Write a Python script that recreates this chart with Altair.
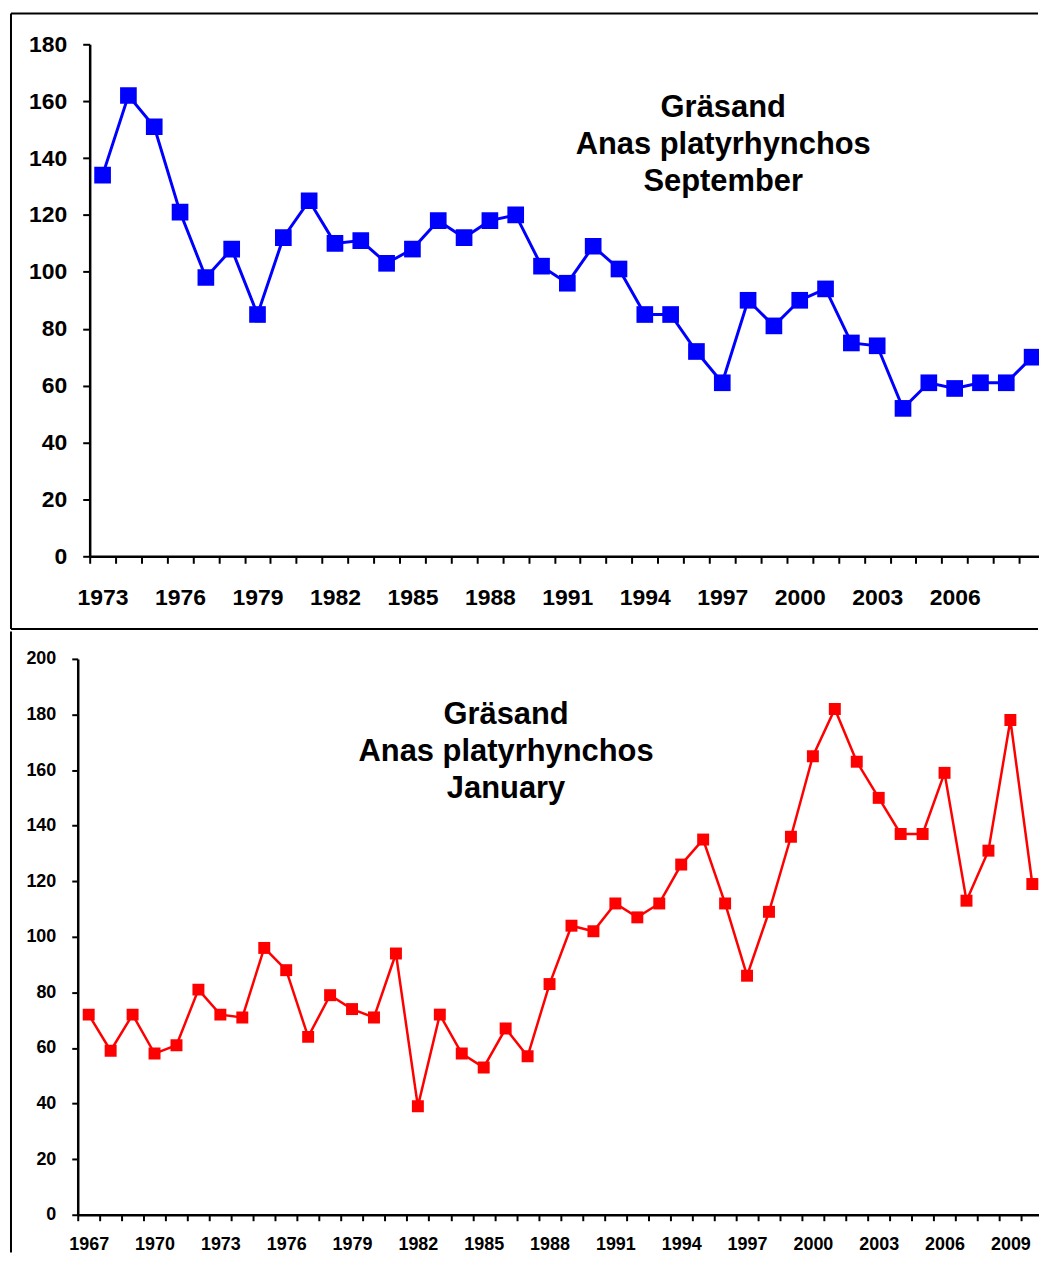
import altair as alt
import pandas as pd

# ---- data ----
sep_years = list(range(1973, 2010))
sep_values = [134, 162, 151, 121, 98, 108, 85, 112, 125, 110, 111, 103, 108, 118, 112,
              118, 120, 102, 96, 109, 101, 85, 85, 72, 61, 90, 81, 90, 94, 75, 74, 52,
              61, 59, 61, 61, 70]

jan_years = list(range(1967, 2011))
jan_values = [72, 59, 72, 58, 61, 81, 72, 71, 96, 88, 64, 79, 74, 71, 94, 39, 72, 58,
              53, 67, 57, 83, 104, 102, 112, 107, 112, 126, 135, 112, 86, 109, 136,
              165, 182, 163, 150, 137, 137, 159, 113, 131, 178, 119]

sep_title = ["Gräsand", "Anas platyrhynchos", "September"]
jan_title = ["Gräsand", "Anas platyrhynchos", "January"]

sep_label_years = list(range(1973, 2007, 3))
jan_label_years = list(range(1967, 2010, 3))

FONT = "Liberation Sans"

sep_df = pd.DataFrame({"year": sep_years, "value": sep_values})
jan_df = pd.DataFrame({"year": jan_years, "value": jan_values})
one = pd.DataFrame({"a": [0]})

W = 965  # plot width shared by both panels (the right edge runs off the page)


def panel(df, color, ymax, h, x0, step, rng0, label_years, label_size, tick_size,
          msize, lwidth, title, tx, ty, frame, lab_pad_x, yoffset):
    first = df["year"].min()
    d0 = first - 0.5
    d1 = d0 + (W - rng0) / step
    half_ticks = [d0 + i for i in range(int(d1 - d0) + 1) if d0 + i <= d1]
    xvals = sorted(half_ticks + label_years)
    xaxis = alt.Axis(
        title=None, values=xvals, labelAngle=0, labelOverlap=False, labelFlush=False,
        labelExpr="datum.value % 1 == 0 ? format(datum.value, 'd') : ''",
        labelFontSize=label_size, labelFont=FONT, labelFontWeight="bold",
        labelColor="black", domainColor="black", domainWidth=2.5,
        tickColor="black", tickWidth=2, tickSize=tick_size, labelPadding=lab_pad_x,
        tickOpacity={"condition": {"test": "datum.value % 1 == 0", "value": 0}, "value": 1},
        grid=False,
    )
    yaxis = alt.Axis(
        title=None, values=list(range(0, ymax + 1, 20)), labelFontSize=label_size,
        labelFont=FONT, labelFontWeight="bold", labelColor="black",
        domainColor="black", domainWidth=2.5, tickColor="black", tickWidth=2,
        tickSize=tick_size, labelPadding=16, grid=False, offset=yoffset,
    )
    x = alt.X("year:Q", scale=alt.Scale(domain=[d0, d1], range=[rng0, W], nice=False,
                                        zero=False), axis=xaxis)
    y = alt.Y("value:Q", scale=alt.Scale(domain=[0, ymax], nice=False), axis=yaxis)
    base = alt.Chart(df)
    line = base.mark_line(color=color, strokeWidth=lwidth, clip=True).encode(x=x, y=y)
    pts = base.mark_point(shape="square", filled=True, opacity=1, color=color,
                          size=msize, clip=True).encode(x=x, y=y)
    txt = alt.Chart(one).mark_text(
        font=FONT, fontSize=31, fontWeight="bold", color="black",
        lineHeight=37, align="center", baseline="middle",
    ).encode(x=alt.value(tx), y=alt.value(ty), text=alt.value(title))
    fx, ftop, fbot, draw_h = frame
    layers = []
    rule = alt.Chart(one).mark_rule(color="black", strokeWidth=2)
    layers.append(rule.encode(x=alt.value(fx), y=alt.value(ftop), y2=alt.value(fbot)))
    if draw_h:
        layers.append(rule.encode(x=alt.value(fx), x2=alt.value(W - 1), y=alt.value(ftop)))
        layers.append(rule.encode(x=alt.value(fx), x2=alt.value(W - 1), y=alt.value(fbot)))
    layers += [line, pts, txt]
    return alt.layer(*layers).properties(width=W, height=h)


# top panel: plot area starts 12px right of the shared origin (y axis moved in)
top = panel(sep_df, "#0000FF", 180, 514, 90, 25.92, 12, sep_label_years, 23, 7,
            280, 3, sep_title, 648, 64, (-67, -31, 587, True), 23, -12)
bottom = panel(jan_df, "#FF0000", 200, 558, 78, 22.03, 0, jan_label_years, 18, 6,
               144, 2.5, jan_title, 430, 56.25, (-67, -27.5, 596, False), 15, 0)

chart = alt.vconcat(top, bottom, spacing=0).properties(
    padding={"left": 2, "top": 2, "right": 0, "bottom": 0}
).configure_view(stroke=None)

chart.save("out.html", embed_options={"renderer": "svg", "actions": False})
